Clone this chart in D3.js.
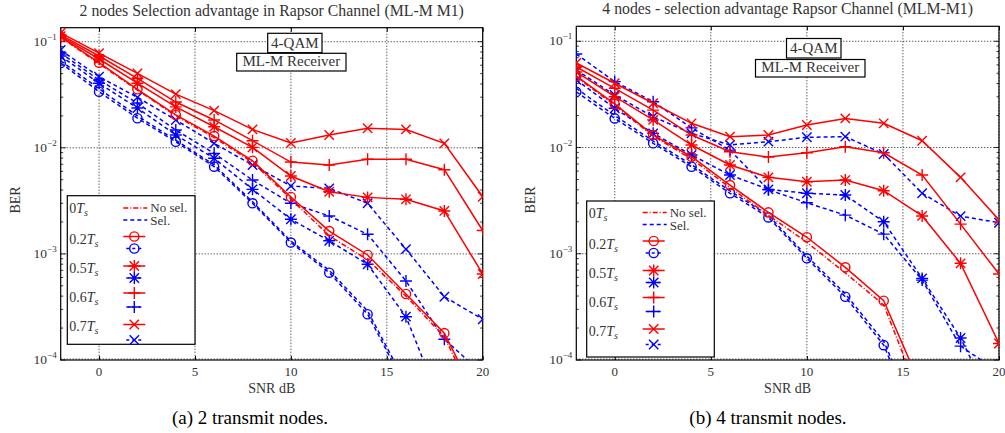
<!DOCTYPE html>
<html>
<head>
<meta charset="utf-8">
<title>Selection advantage BER</title>
<style>
  body { margin: 0; background: #fff; }
  text { font-family: "Liberation Serif", "DejaVu Serif", serif; }
</style>
</head>
<body>
<div id="chart"></div>
<script src="https://d3js.org/d3.v7.min.js"></script>
<script>
// SNR points (dB)
var snr = [-2, 0, 2, 4, 6, 8, 10, 12, 14, 16, 18, 20];
var xTicks = [0, 5, 10, 15, 20];
var yTicks = [1e-1, 1e-2, 1e-3, 1e-4];
var delayLabels = ["0", "0.2", "0.5", "0.6", "0.7"];
var markerKinds = ["none", "circle", "star", "plus", "x"];

// 2 transmit nodes, no selection (red)
var n2NoSel0  = [0.110, 0.062, 0.035, 0.020, 0.0125, 0.0073, 0.0033, 0.00148, 0.00088, 0.00040, 0.000165, 0.00003];
var n2NoSel02 = [0.111, 0.0634, 0.0356, 0.0204, 0.0129, 0.00755, 0.00344, 0.00164, 0.000977, 0.000419, 0.000179, 0.000034];
var n2NoSel05 = [0.113, 0.0687, 0.0406, 0.0243, 0.0158, 0.0101, 0.00542, 0.00385, 0.00341, 0.00327, 0.00254, 0.000647];
var n2NoSel06 = [0.116, 0.0733, 0.0452, 0.0270, 0.0183, 0.01167, 0.00734, 0.00689, 0.00780, 0.00780, 0.00622, 0.00166];
var n2NoSel07 = [0.121, 0.078, 0.0503, 0.0321, 0.0224, 0.0149, 0.0111, 0.0132, 0.0153, 0.0149, 0.0110, 0.00346];
// 2 transmit nodes, selection (blue)
var n2Sel0  = [0.066, 0.036, 0.020, 0.0118, 0.0069, 0.0031, 0.00132, 0.00070, 0.00029, 0.00006, 0.00001, 0.000002];
var n2Sel02 = [0.063, 0.0338, 0.0190, 0.0114, 0.00664, 0.00300, 0.00128, 0.000665, 0.000270, 0.000055, 0.000008, 0.000001];
var n2Sel05 = [0.0733, 0.0406, 0.0237, 0.0132, 0.00796, 0.00406, 0.00212, 0.00133, 0.000798, 0.000256, 0.000032, 0.000005];
var n2Sel06 = [0.0782, 0.0435, 0.0264, 0.0147, 0.00887, 0.00497, 0.00300, 0.00228, 0.00153, 0.000556, 0.000157, 0.000074];
var n2Sel07 = [0.0835, 0.0468, 0.0299, 0.0183, 0.0110, 0.00689, 0.00436, 0.00415, 0.00300, 0.00111, 0.000395, 0.000242];

// 4 transmit nodes, no selection (red)
var n4NoSel0  = [0.046, 0.025, 0.0128, 0.0078, 0.0042, 0.0023, 0.00128, 0.00066, 0.00033, 0.00004, 0.000005, 0.000001];
var n4NoSel02 = [0.0471, 0.0257, 0.0131, 0.00819, 0.00443, 0.00245, 0.00143, 0.000745, 0.000361, 0.000053, 0.000006, 0.000001];
var n4NoSel05 = [0.0514, 0.0301, 0.0182, 0.01056, 0.00685, 0.00524, 0.00476, 0.00494, 0.00392, 0.00227, 0.000813, 0.000143];
var n4NoSel06 = [0.0573, 0.0361, 0.0225, 0.0131, 0.00912, 0.00814, 0.00893, 0.01018, 0.00893, 0.00551, 0.00190, 0.000644];
var n4NoSel07 = [0.0625, 0.0403, 0.0261, 0.0169, 0.01265, 0.01313, 0.0163, 0.0188, 0.0169, 0.01159, 0.00524, 0.00208];
// 4 transmit nodes, selection (blue)
var n4Sel0  = [0.036, 0.020, 0.0115, 0.0069, 0.0039, 0.0023, 0.00095, 0.00042, 0.00015, 0.000022, 0.000003, 0.000001];
var n4Sel02 = [0.0334, 0.0188, 0.01096, 0.00659, 0.00371, 0.00220, 0.000906, 0.000394, 0.000138, 0.000019, 0.000003, 0.000001];
var n4Sel05 = [0.0433, 0.0234, 0.0136, 0.00850, 0.00551, 0.00404, 0.00371, 0.00357, 0.00200, 0.000586, 0.000161, 0.00003];
var n4Sel06 = [0.0759, 0.0417, 0.0270, 0.0153, 0.00946, 0.00400, 0.00302, 0.00231, 0.00153, 0.000565, 0.000135, 0.000077];
var n4Sel07 = [0.0537, 0.0312, 0.0195, 0.0136, 0.01057, 0.01135, 0.01248, 0.01265, 0.00869, 0.00371, 0.00226, 0.00196];

var panels = [
  { title: "2 nodes Selection advantage in Rapsor Channel (ML-M M1)",
    caption: "(a) 2 transmit nodes.", capX: 250,
    x0: 60.7, x1: 482.7, y0: 27.7, y1: 360, yTop: Math.pow(10, -0.868),
    red: [n2NoSel0, n2NoSel02, n2NoSel05, n2NoSel06, n2NoSel07],
    blue: [n2Sel0, n2Sel02, n2Sel05, n2Sel06, n2Sel07],
    qam: [267.7, 33.3, 322, 52.7], rx: [236.7, 53.3, 346, 71],
    leg: [67.3, 195.7, 195, 344.3], legDy: 0, titleY: 16 },
  { title: "4 nodes - selection advantage Rapsor Channel (MLM-M1)",
    caption: "(b) 4 transmit nodes.", capX: 768,
    x0: 576.3, x1: 999, y0: 26.3, y1: 360, yTop: Math.pow(10, -0.859),
    red: [n4NoSel0, n4NoSel02, n4NoSel05, n4NoSel06, n4NoSel07],
    blue: [n4Sel0, n4Sel02, n4Sel05, n4Sel06, n4Sel07],
    qam: [786.5, 38.5, 841, 58], rx: [755.5, 59.5, 865, 77],
    leg: [586.7, 201, 714.3, 357], legDy: 4.5, titleY: 14 }
];

var svg = d3.select("#chart").append("svg")
  .attr("width", 1005).attr("height", 433);

function markerPath(kind, r) {
  if (kind === "circle") {
    return "M" + r + ",0A" + r + "," + r + " 0 1,1 " + (-r) + ",0A" + r + "," + r + " 0 1,1 " + r + ",0";
  }
  var p = "M" + (-r) + ",0H" + r + "M0," + (-r) + "V" + r;
  var q = r * 0.78;
  var xx = "M" + (-q) + "," + (-q) + "L" + q + "," + q + "M" + (-q) + "," + q + "L" + q + "," + (-q);
  if (kind === "plus") return p;
  if (kind === "x") return xx;
  if (kind === "star") return p + xx;
  return "";
}

panels.forEach(function (P, pi) {
  var x = d3.scaleLinear().domain([-2, 20]).range([P.x0, P.x1]);
  var y = d3.scaleLog().domain([1e-4, P.yTop]).range([P.y1, P.y0]);
  var g = svg.append("g");
  var clipId = "clip" + pi;
  svg.append("clipPath").attr("id", clipId).append("rect")
    .attr("x", P.x0).attr("y", P.y0).attr("width", P.x1 - P.x0).attr("height", P.y1 - P.y0);

  // grid
  g.selectAll(".gx").data(xTicks).enter().append("line")
    .attr("x1", function (d) { return x(d); }).attr("x2", function (d) { return x(d); })
    .attr("y1", P.y0).attr("y2", P.y1)
    .attr("stroke", "#000").attr("stroke-width", 0.9).attr("stroke-dasharray", "1,2");
  g.selectAll(".gy").data(yTicks).enter().append("line")
    .attr("x1", P.x0).attr("x2", P.x1)
    .attr("y1", function (d) { return y(d) - (d === 1e-4 ? 1 : 0); })
    .attr("y2", function (d) { return y(d) - (d === 1e-4 ? 1 : 0); })
    .attr("stroke", "#000").attr("stroke-width", 0.9).attr("stroke-dasharray", "1,2");

  // ticks
  var xAxisB = d3.axisBottom(x).tickValues(xTicks).tickSize(-4).tickFormat("");
  var xAxisT = d3.axisTop(x).tickValues(xTicks).tickSize(-4).tickFormat("");
  g.append("g").attr("transform", "translate(0," + P.y1 + ")").call(xAxisB);
  g.append("g").attr("transform", "translate(0," + P.y0 + ")").call(xAxisT);
  var minor = [];
  [1e-4, 1e-3, 1e-2, 1e-1].forEach(function (dec) {
    for (var k = 1; k <= 9; k++) {
      var v = dec * k;
      if (v <= P.yTop) minor.push(v);
    }
  });
  g.selectAll(".myl").data(minor).enter().append("line")
    .attr("x1", P.x0).attr("x2", function (d) { return P.x0 + (yTicks.indexOf(d) >= 0 ? 5 : 2.5); })
    .attr("y1", function (d) { return y(d); }).attr("y2", function (d) { return y(d); })
    .attr("stroke", "#000").attr("stroke-width", 0.8);
  g.selectAll(".myr").data(minor).enter().append("line")
    .attr("x1", P.x1).attr("x2", function (d) { return P.x1 - (yTicks.indexOf(d) >= 0 ? 5 : 2.5); })
    .attr("y1", function (d) { return y(d); }).attr("y2", function (d) { return y(d); })
    .attr("stroke", "#000").attr("stroke-width", 0.8);
  g.selectAll("path.domain").remove();
  g.selectAll(".tick line").attr("stroke", "#000");

  // tick labels
  g.selectAll(".xl").data(xTicks).enter().append("text")
    .attr("x", function (d) { return x(d); }).attr("y", P.y1 + 16)
    .attr("text-anchor", "middle").attr("font-size", 13).attr("fill", "#333")
    .text(function (d) { return d; });
  yTicks.forEach(function (d) {
    var t = g.append("text").attr("x", P.x0 - 4).attr("y", y(d) + 4)
      .attr("text-anchor", "end").attr("font-size", 13.5).attr("fill", "#333");
    t.append("tspan").text("10");
    t.append("tspan").attr("font-size", 9).attr("dy", -6).text("\u2212" + Math.round(-Math.log10(d)));
  });

  // frame
  g.append("rect").attr("x", P.x0).attr("y", P.y0)
    .attr("width", P.x1 - P.x0).attr("height", P.y1 - P.y0)
    .attr("fill", "none").attr("stroke", "#000").attr("stroke-width", 1.2);

  // curves
  var line = d3.line()
    .x(function (d, i) { return x(snr[i]); })
    .y(function (d) { return y(d); });
  var plot = g.append("g").attr("clip-path", "url(#" + clipId + ")");
  function drawSeries(vals, color, dash, kind) {
    plot.append("path").datum(vals).attr("d", line)
      .attr("fill", "none").attr("stroke", color).attr("stroke-width", 1.5)
      .attr("stroke-dasharray", dash);
    if (kind === "none") return;
    plot.selectAll(null).data(vals).enter()
      .filter(function (d) { return d >= 1e-4 * 0.95; })
      .append("path")
      .attr("transform", function (d, i) { return "translate(" + x(snr[i]) + "," + y(d) + ")"; })
      .attr("d", markerPath(kind, kind === "circle" ? 4.6 : 6))
      .attr("fill", "none").attr("stroke", color).attr("stroke-width", 1.4);
  }
  P.blue.forEach(function (vals, k) {
    drawSeries(vals, "#0000ff", "4,3", markerKinds[k]);
  });
  P.red.forEach(function (vals, k) {
    drawSeries(vals, "#ff0000", k === 0 ? "5,2,1,2" : null, markerKinds[k]);
  });

  // annotation boxes
  [[P.qam, "4-QAM"], [P.rx, "ML-M Receiver"]].forEach(function (b) {
    var r = b[0];
    g.append("rect").attr("x", r[0]).attr("y", r[1]).attr("width", r[2] - r[0]).attr("height", r[3] - r[1])
      .attr("fill", "#fff").attr("stroke", "#000").attr("stroke-width", 1.2);
    g.append("text").attr("x", (r[0] + r[2]) / 2).attr("y", r[3] - 5)
      .attr("text-anchor", "middle").attr("font-size", 15).attr("fill", "#333").text(b[1]);
  });

  // legend
  var L = P.leg, dy = P.legDy;
  var lg = g.append("g");
  lg.append("rect").attr("x", L[0]).attr("y", L[1]).attr("width", L[2] - L[0]).attr("height", L[3] - L[1])
    .attr("fill", "#fff").attr("stroke", "#000").attr("stroke-width", 1.2);
  var lx = L[0] + 56, mx = L[0] + 67;
  lg.append("line").attr("x1", lx).attr("x2", lx + 24).attr("y1", 208 + dy).attr("y2", 208 + dy)
    .attr("stroke", "#ff0000").attr("stroke-width", 1.5).attr("stroke-dasharray", "5,2,1,2");
  lg.append("line").attr("x1", lx).attr("x2", lx + 24).attr("y1", 220 + dy).attr("y2", 220 + dy)
    .attr("stroke", "#0000ff").attr("stroke-width", 1.5).attr("stroke-dasharray", "4,3");
  lg.append("text").attr("x", lx + 27).attr("y", 212 + dy).attr("font-size", 13).attr("fill", "#333").text("No sel.");
  lg.append("text").attr("x", lx + 27).attr("y", 225 + dy).attr("font-size", 13).attr("fill", "#333").text("Sel.");
  var rowY = [213, 244, 273, 302, 331];
  var redY = [null, 236.5, 266, 293, 324.5];
  var blueY = [null, 248.5, 278, 307, 340];
  delayLabels.forEach(function (lab, k) {
    var t = lg.append("text").attr("x", L[0] + 2).attr("y", rowY[k] + dy)
      .attr("font-size", 14).attr("fill", "#333");
    t.append("tspan").text(lab);
    t.append("tspan").attr("font-style", "italic").text("T");
    t.append("tspan").attr("font-style", "italic").attr("font-size", 10).attr("dy", 3).text("s");
    if (k === 0) return;
    lg.append("line").attr("x1", mx - 11).attr("x2", mx + 11).attr("y1", redY[k] + dy).attr("y2", redY[k] + dy)
      .attr("stroke", "#ff0000").attr("stroke-width", 1.5);
    lg.append("path").attr("transform", "translate(" + mx + "," + (redY[k] + dy) + ")")
      .attr("d", markerPath(markerKinds[k], markerKinds[k] === "circle" ? 4.6 : 6))
      .attr("fill", "none").attr("stroke", "#ff0000").attr("stroke-width", 1.4);
    lg.append("line").attr("x1", mx - 8).attr("x2", mx + 8).attr("y1", blueY[k] + dy).attr("y2", blueY[k] + dy)
      .attr("stroke", "#0000ff").attr("stroke-width", 1.5).attr("stroke-dasharray", "3,3");
    lg.append("path").attr("transform", "translate(" + mx + "," + (blueY[k] + dy) + ")")
      .attr("d", markerPath(markerKinds[k], markerKinds[k] === "circle" ? 4.6 : 6))
      .attr("fill", "none").attr("stroke", "#0000ff").attr("stroke-width", 1.4);
  });

  // titles and axis labels
  var cx = (P.x0 + P.x1) / 2;
  svg.append("text").attr("x", cx).attr("y", P.titleY).attr("text-anchor", "middle")
    .attr("font-size", 15.8).attr("fill", "#333").text(P.title);
  svg.append("text").attr("x", cx).attr("y", 393).attr("text-anchor", "middle")
    .attr("font-size", 14).attr("fill", "#333").text("SNR dB");
  svg.append("text").attr("transform", "translate(" + (P.x0 - 41) + ",200) rotate(-90)")
    .attr("text-anchor", "middle").attr("font-size", 14).attr("fill", "#333").text("BER");
  svg.append("text").attr("x", P.capX).attr("y", 424).attr("text-anchor", "middle")
    .attr("font-size", 19).attr("fill", "#000").text(P.caption);
});
</script>
</body>
</html>
